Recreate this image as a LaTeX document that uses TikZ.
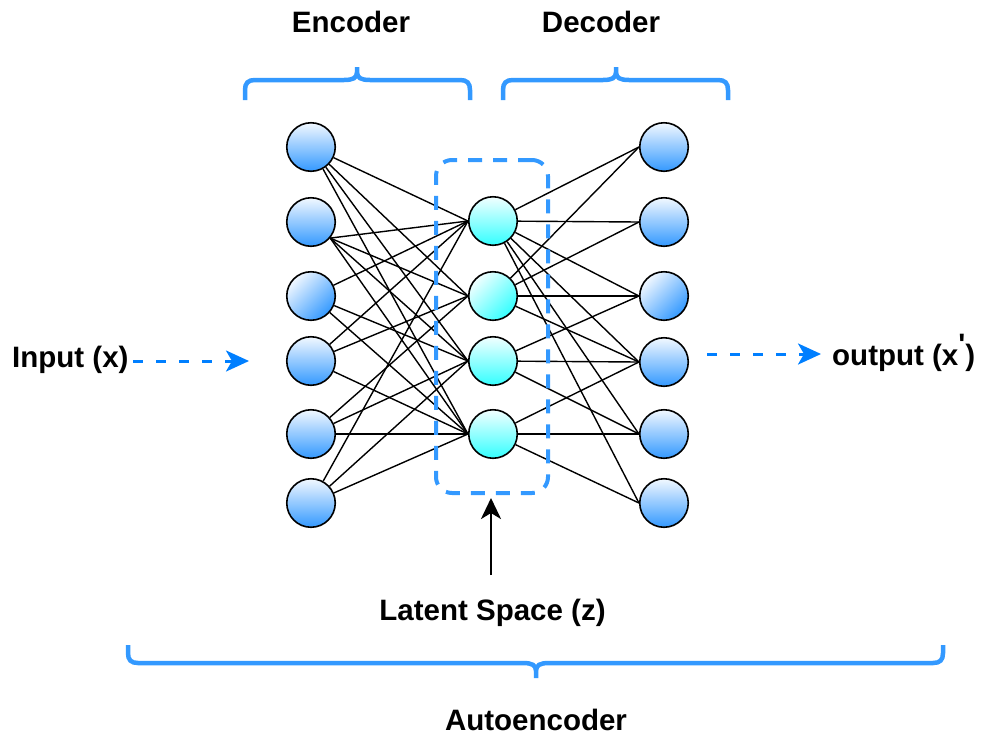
\documentclass[tikz,border=0pt]{standalone}
\usepackage{fontspec}
\setmainfont{Liberation Sans}
\usetikzlibrary{arrows.meta}
\pgfdeclarelayer{bg}
\pgfsetlayers{bg,main}
\definecolor{nbtop}{HTML}{F2F8FF}
\definecolor{nbbot}{HTML}{3399FF}
\definecolor{mctop}{HTML}{F2FFFF}
\definecolor{mcbot}{HTML}{33FFFF}
\definecolor{brc}{HTML}{3399FF}
\definecolor{arc}{HTML}{007FFF}
\begin{document}
\begin{tikzpicture}[x=1pt,y=-1pt,
  lbl/.style={font=\fontsize{29.5}{35}\selectfont\bfseries, inner sep=0pt, anchor=base},
  nb/.style={circle, draw=black, line width=1.6pt, minimum size=48.5pt, inner sep=0pt, top color=nbtop, bottom color=nbbot},
  nbd/.style={nb, shading angle=45},
  nm/.style={nb, top color=mctop, bottom color=mcbot},
  nmd/.style={nm, shading angle=45},
  edge/.style={draw=black, line width=1.4pt},
  brace/.style={draw=brc, line width=4.5pt},
  flow/.style={draw=arc, line width=3pt, dash pattern=on 10pt off 13pt, -{Stealth[length=23pt,width=21pt,inset=6pt]}},
]
\useasboundingbox (0,0) rectangle (981,737);

% input layer
\node[nb]  (L1) at (311,147) {};
\node[nb]  (L2) at (311,222) {};
\node[nbd] (L3) at (311,296) {};
\node[nb]  (L4) at (311,361) {};
\node[nb]  (L5) at (311,434) {};
\node[nb]  (L6) at (311,503) {};
% latent layer
\node[nm]  (m1) at (493,221) {};
\node[nmd] (m2) at (493,296) {};
\node[nm]  (m3) at (493,361) {};
\node[nm]  (m4) at (493,434) {};
% output layer
\node[nb]  (R1) at (664,147) {};
\node[nb]  (R2) at (664,222) {};
\node[nbd] (R3) at (664,296) {};
\node[nb]  (R4) at (664,362) {};
\node[nb]  (R5) at (664,434) {};
\node[nb]  (R6) at (664,503) {};

\begin{pgfonlayer}{bg}
\foreach \a/\b in {L1/m1,L1/m2,L1/m3,L1/m4,L3/m1,L3/m3,L3/m4,L4/m1,L4/m2,L4/m4,L5/m2,L5/m3,L5/m4,L6/m1,L6/m3,L6/m4}
  \draw[edge] (\a) -- (\b.west);
\foreach \b in {m1,m2,m3,m4}
  \draw[edge] (L2.-40) -- (\b.west);
\foreach \a/\b in {m1/R1,m1/R2,m1/R3,m1/R4,m1/R5,m1/R6,m2/R1,m2/R2,m2/R3,m2/R4,m3/R3,m3/R4,m3/R5,m4/R4,m4/R5,m4/R6}
  \draw[edge] (\a) -- (\b.west);
\end{pgfonlayer}

% latent box
\node[draw=brc, line width=4pt, dash pattern=on 14pt off 11pt, rounded corners=16pt,
      minimum width=112pt, minimum height=333pt, inner sep=0pt] (zbox) at (492,326.5) {};

% braces
\draw[brace] (245,100) -- (245,90) .. controls (245,83) and (248,80) .. (255,80) -- (344,80)
  .. controls (353,80) and (357,78) .. (357,72) -- (357,67)
  (357,72) .. controls (357,78) and (361,80) .. (370,80) -- (460,80)
  .. controls (467,80) and (470,83) .. (470,90) -- (470,100);
\draw[brace] (503,100) -- (503,90) .. controls (503,83) and (506,80) .. (513,80) -- (603,80)
  .. controls (612,80) and (616,78) .. (616,72) -- (616,67)
  (616,72) .. controls (616,78) and (620,80) .. (629,80) -- (718,80)
  .. controls (725,80) and (728,83) .. (728,90) -- (728,100);
\draw[brace] (128,645) -- (128,653) .. controls (128,660) and (131,663) .. (138,663) -- (523,663)
  .. controls (532,663) and (536,665) .. (536,671) -- (536,678)
  (536,671) .. controls (536,665) and (540,663) .. (549,663) -- (933,663)
  .. controls (940,663) and (943,660) .. (943,653) -- (943,645);

% labels
\node[lbl] (enc) at (351,32) {Encoder};
\node[lbl] (dec) at (601,32) {Decoder};
\node[lbl, anchor=base west] (inp) at (12,367) {Input (x)};
\node[lbl, anchor=base west] (outp) at (832,365) {output (x\raisebox{11pt}{\textquotesingle})};
\node[lbl] (lat) at (492.5,620) {Latent Space (z)};
\node[lbl] (auto) at (536,730) {Autoencoder};

% arrows
\coordinate (inA) at (133,361);
\coordinate (inB) at (249,361);
\draw[flow] (inA) -- (inB);
\coordinate (outA) at (707,354);
\coordinate (outB) at (821,354);
\draw[flow] (outA) -- (outB);
\coordinate (latA) at (491,575);
\draw[line width=2.8pt, shorten >=3pt, -{Stealth[length=21pt,width=20pt,inset=6pt]}] (latA) -- (zbox.south -| latA);
\end{tikzpicture}
\end{document}
